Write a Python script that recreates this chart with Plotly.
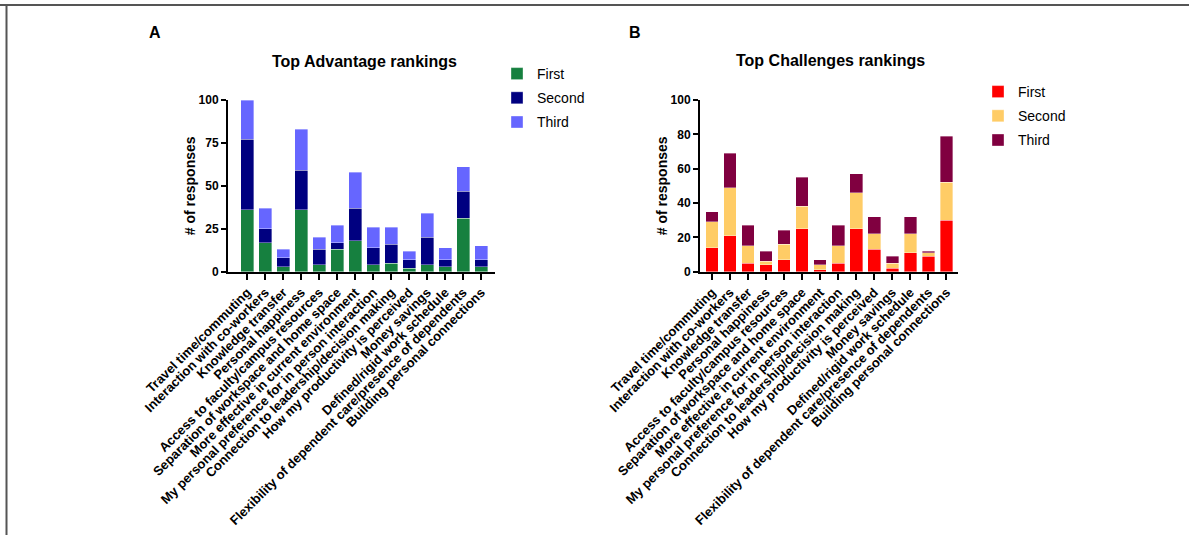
import plotly.graph_objects as go

# Response categories shared by both panels
categories = [
    "Travel time/commuting",
    "Interaction with co-workers",
    "Knowledge transfer",
    "Personal happiness",
    "Access to faculty/campus resources",
    "Separation of workspace and home space",
    "More effective in current environment",
    "My personal preference for in person interaction",
    "Connection to leadership/decision making",
    "How my productivity is perceived",
    "Money savings",
    "Defined/rigid work schedule",
    "Flexibility of dependent care/presence of dependents",
    "Building personal connections",
]

# Panel A: advantage rankings
adv_first = [36, 17, 3, 36, 4, 13, 18, 4, 5, 2, 4, 3, 31, 3]
adv_second = [41, 8, 5, 23, 9, 4, 19, 10, 11, 5, 16, 4, 16, 4]
adv_third = [23, 12, 5, 24, 7, 10, 21, 12, 10, 5, 14, 7, 14, 8]

# Panel B: challenge rankings
chal_first = [14, 21, 5, 4, 7, 25, 1, 5, 25, 13, 2, 11, 9, 30]
chal_second = [15, 28, 10, 2, 9, 13, 3, 10, 21, 9, 3, 11, 2, 22]
chal_third = [6, 20, 12, 6, 8, 17, 3, 12, 11, 10, 4, 10, 1, 27]

rank_names = ["First", "Second", "Third"]
adv_colors = ["#16803F", "#000080", "#6666FF"]
chal_colors = ["#FF0000", "#FFCC66", "#800040"]

W, H = 1189, 535
FONT = "Liberation Sans, Arial, Helvetica, sans-serif"


def px_x(v):
    return v / W


def px_y(v):
    return 1 - v / H


fig = go.Figure()

idx = list(range(len(categories)))

for name, vals, col in zip(rank_names, [adv_first, adv_second, adv_third], adv_colors):
    fig.add_trace(go.Bar(
        x=idx, y=vals, name=name,
        marker=dict(color=col, line=dict(width=0.6, color="rgba(255,255,255,0.6)")),
        xaxis="x", yaxis="y", legend="legend", legendgroup="a" + name,
        width=0.72,
    ))

for name, vals, col in zip(rank_names, [chal_first, chal_second, chal_third], chal_colors):
    fig.add_trace(go.Bar(
        x=idx, y=vals, name=name,
        marker=dict(color=col, line=dict(width=0.6, color="rgba(255,255,255,0.6)")),
        xaxis="x2", yaxis="y2", legend="legend2", legendgroup="b" + name,
        width=0.70,
    ))

tick_font = dict(family=FONT, size=13, color="black", weight="bold")
num_font = dict(family=FONT, size=12, color="black", weight="bold")

xaxis_common = dict(
    tickmode="array", tickvals=idx, ticktext=categories, tickangle=-45,
    tickfont=tick_font, showline=True, linecolor="black", linewidth=2,
    ticks="outside", ticklen=6, tickwidth=1.5, tickcolor="black",
    showgrid=False, zeroline=False, automargin=False,
)
yaxis_common = dict(
    range=[0, 100], tickfont=num_font, showline=True, linecolor="black",
    linewidth=2, ticks="outside", ticklen=5, tickwidth=1.5, tickcolor="black",
    showgrid=False, zeroline=False, automargin=False,
    title=dict(text="# of responses", font=dict(family=FONT, size=14, color="black", weight="bold"), standoff=0),
)

y_dom = [px_y(271.7), px_y(100)]

fig.update_layout(
    width=W, height=H,
    margin=dict(l=0, r=0, t=0, b=0),
    paper_bgcolor="white", plot_bgcolor="white",
    barmode="stack",
    xaxis=dict(domain=[px_x(228), px_x(495)], range=[-1.07, 13.77], anchor="y", **xaxis_common),
    yaxis=dict(domain=y_dom, anchor="x", tickvals=[0, 25, 50, 75, 100], **yaxis_common),
    xaxis2=dict(domain=[px_x(700), px_x(958)], range=[-0.66, 13.64], anchor="y2", **xaxis_common),
    yaxis2=dict(domain=y_dom, anchor="x2", tickvals=[0, 20, 40, 60, 80, 100], **yaxis_common),
    legend=dict(
        x=px_x(497), y=px_y(58), xanchor="left", yanchor="top",
        font=dict(family=FONT, size=14, color="black"),
        traceorder="grouped", tracegroupgap=3, bgcolor="rgba(0,0,0,0)",
    ),
    legend2=dict(
        x=px_x(978), y=px_y(76), xanchor="left", yanchor="top",
        font=dict(family=FONT, size=14, color="black"),
        traceorder="grouped", tracegroupgap=3, bgcolor="rgba(0,0,0,0)",
    ),
    showlegend=True,
)

# Panel letters and titles
for txt, x, y, size in [
    ("A", 155, 33, 16), ("B", 635, 33, 16),
    ("Top Advantage rankings", 364, 61, 16), ("Top Challenges rankings", 830, 60, 16),
]:
    fig.add_annotation(
        text=txt, x=px_x(x), y=px_y(y), xref="paper", yref="paper",
        xanchor="center", yanchor="middle", showarrow=False,
        font=dict(family=FONT, size=size, color="black", weight="bold"),
    )

# Outer frame: top and left border lines
fig.add_shape(type="line", xref="paper", yref="paper", x0=0, x1=1, y0=px_y(5), y1=px_y(5),
              line=dict(color="#555555", width=2))
fig.add_shape(type="line", xref="paper", yref="paper", x0=px_x(6.5), x1=px_x(6.5), y0=px_y(5), y1=0,
              line=dict(color="#555555", width=2))

fig.write_html("out.html")
